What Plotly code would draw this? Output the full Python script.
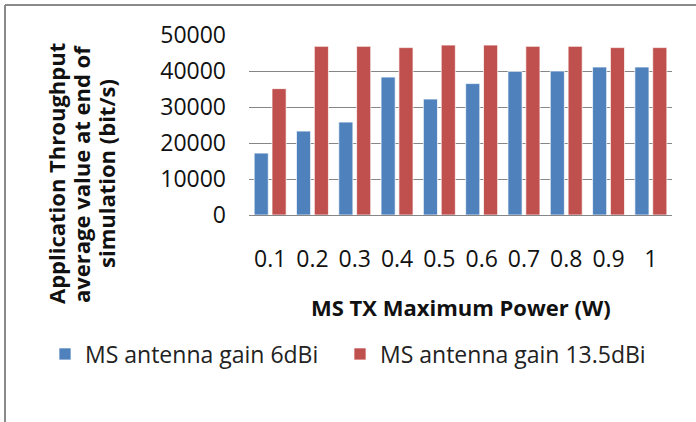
import plotly.graph_objects as go

categories = ["0.1", "0.2", "0.3", "0.4", "0.5", "0.6", "0.7", "0.8", "0.9", "1"]
gain_6dbi = [17200, 23300, 25800, 38300, 32200, 36500, 39900, 40000, 41100, 41100]
gain_13_5dbi = [35100, 46850, 46850, 46500, 47200, 47200, 46850, 46850, 46500, 46500]
series_names = ["MS antenna gain 6dBi", "MS antenna gain 13.5dBi"]
y_ticks = [0, 10000, 20000, 30000, 40000, 50000]
y_tick_labels = ["0", "10000", "20000", "30000", "40000", "50000"]
y_title_lines = ["Application Throughput", "average value at end of", "simulation (bit/s)"]
x_title = "MS TX Maximum Power (W)"

W, H = 696, 422
L, R, T, B = 249, 24, 35, 207
pw, ph = W - L - R, H - T - B

def px_x(p):
    return (p - L) / pw

def px_y(p):
    return (H - B - p) / ph

FONT = "Open Sans"
GRID = "#868686"
TXT = "#111111"

fig = go.Figure()
fig.add_trace(go.Bar(x=categories, y=gain_6dbi, name=series_names[0], legend="legend",
                     marker=dict(color="#4F81BD", line=dict(color="rgba(255,255,255,0.7)", width=1))))
fig.add_trace(go.Bar(x=categories, y=gain_13_5dbi, name=series_names[1], legend="legend2",
                     marker=dict(color="#C0504D", line=dict(color="rgba(255,255,255,0.7)", width=1))))

annotations = []
for line, xc in zip(y_title_lines, [56, 81, 106]):
    annotations.append(dict(text="<b>" + line + "</b>", textangle=-90, xref="paper", yref="paper",
                            x=px_x(xc), y=px_y(174), xanchor="center", yanchor="middle",
                            showarrow=False, font=dict(family=FONT, size=22, color=TXT)))
annotations.append(dict(text="<b>" + x_title + "</b>", xref="paper", yref="paper",
                        x=0.5, y=px_y(307), xanchor="center", yanchor="middle", showarrow=False,
                        font=dict(family=FONT, size=22, color=TXT)))

legend_common = dict(orientation="h", yanchor="middle", xanchor="left",
                     font=dict(family=FONT, size=23, color="#222222"),
                     bgcolor="rgba(0,0,0,0)", itemclick=False, itemdoubleclick=False)

fig.update_layout(
    width=W, height=H,
    margin=dict(l=L, r=R, t=T, b=B, autoexpand=False),
    paper_bgcolor="white", plot_bgcolor="white",
    barmode="group", bargap=0.156, bargroupgap=0.21,
    font=dict(family=FONT, color="#000000"),
    showlegend=True,
    legend=dict(x=px_x(45), y=px_y(354), **legend_common),
    legend2=dict(x=px_x(340), y=px_y(354), **legend_common),
    xaxis=dict(type="category", showgrid=False, showline=True, linecolor=GRID, linewidth=1,
               ticks="", tickfont=dict(family=FONT, size=23, color=TXT),
               ticklabelstandoff=23, automargin=False),
    yaxis=dict(range=[0, 50000], tickvals=y_ticks, ticktext=y_tick_labels,
               showgrid=True, gridcolor=GRID, gridwidth=1,
               zeroline=False, showline=False, ticks="",
               tickfont=dict(family=FONT, size=23, color=TXT),
               ticklabelstandoff=22, automargin=False),
    annotations=annotations,
    shapes=[
        dict(type="line", xref="paper", yref="paper", x0=px_x(5), x1=px_x(710),
             y0=px_y(5), y1=px_y(5), line=dict(color="#8a8a8a", width=2)),
        dict(type="line", xref="paper", yref="paper", x0=px_x(5), x1=px_x(5),
             y0=px_y(5), y1=px_y(440), line=dict(color="#8a8a8a", width=2)),
    ],
)

fig.write_html("out.html", config={"displayModeBar": False},
               post_script="document.body.style.margin='0';")
